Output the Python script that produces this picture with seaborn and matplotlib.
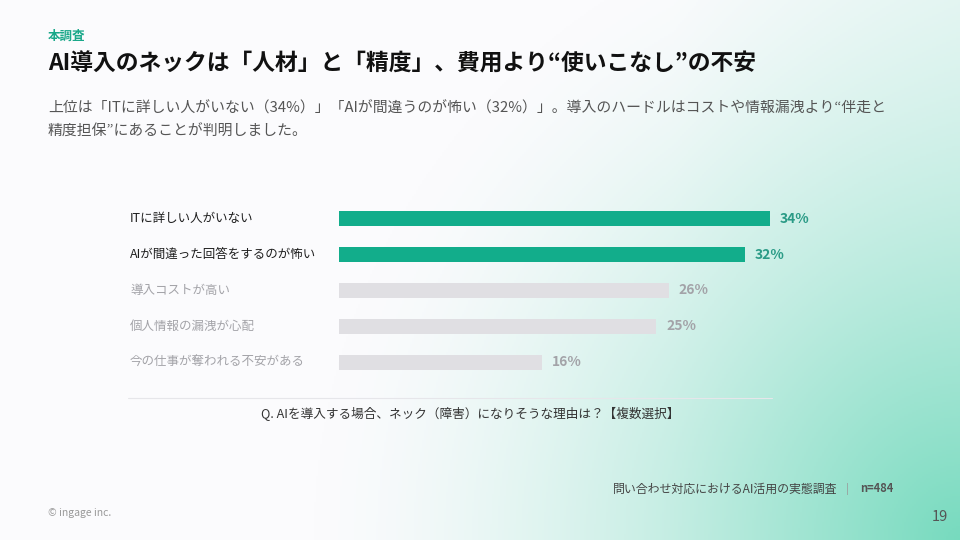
import numpy as np
import pandas as pd
import matplotlib.pyplot as plt
import seaborn as sns
from matplotlib.lines import Line2D

# --- データ ---
categories = ["ITに詳しい人がいない", "AIが間違った回答をするのが怖い", "導入コストが高い",
              "個人情報の漏洩が心配", "今の仕事が奪われる不安がある"]
values = [34, 32, 26, 25, 16]
highlight = [True, True, False, False, False]

TEAL = "#12ad8b"
TEAL_TXT = "#2a9b86"
GREY_BAR = "#e0dfe3"
GREY_TXT = "#a3a3a8"

sns.set_theme(style="white")
plt.rcParams['font.family'] = ['Noto Sans CJK JP', 'DejaVu Sans']

fig = plt.figure(figsize=(9.6, 5.4), dpi=100)
fig.patch.set_facecolor("#fbfbfd")

# --- 背景グラデーション ---
bg = fig.add_axes([0, 0, 1, 1], zorder=-10)
H, W = 270, 480
yy, xx = np.mgrid[0:H, 0:W]
xf = xx / W
yf = 1 - yy / H  # 0 = bottom
d = np.sqrt(((1 - xf) * 1.78) ** 2 + (yf * 1.0) ** 2)
w = np.clip(1 - d / 1.2, 0, 1) ** 1.5
w = w + 0.12 * np.clip(xf - 0.7, 0, 1) / 0.3 * (1 - w)
base = np.array([251, 251, 253]) / 255
tint = np.array([118, 218, 190]) / 255
img = base[None, None, :] * (1 - w[..., None]) + tint[None, None, :] * w[..., None]
bg.imshow(img, extent=[0, 1, 0, 1], aspect="auto", origin="upper")
bg.axis("off")

# --- 棒グラフ ---
px_per = (770 - 339) / 34
ax = fig.add_axes([339 / 960, 1 - 380 / 540, 40 * px_per / 960, 179 / 540])
ax.set_facecolor("none")
df = pd.DataFrame({"cat": categories, "val": values})
colors = [TEAL if h else GREY_BAR for h in highlight]
sns.barplot(data=df, y="cat", x="val", hue="cat", palette=colors, legend=False,
            orient="h", width=0.42, ax=ax, saturation=1, linewidth=0)
ax.set_xlim(0, 40)
ax.set_ylim(4.5, -0.5)
ax.set_xlabel("")
ax.set_ylabel("")
ax.set_xticks([])
ax.set_yticks([])
for s in ax.spines.values():
    s.set_visible(False)

ytr = ax.get_yaxis_transform()
for i, (c, v, h) in enumerate(zip(categories, values, highlight)):
    ax.text((130 - 339) / (40 * px_per), i, c, transform=ytr, ha="left", va="center",
            fontsize=9, color="#1e1e1e" if h else GREY_TXT)
    ax.text(v + 0.8, i, f"{v}%", ha="left", va="center", fontsize=10, fontweight="bold",
            color=TEAL_TXT if h else GREY_TXT)

# --- 区切り線と設問 ---
fig.add_artist(Line2D([128 / 960, 772 / 960], [1 - 398 / 540] * 2, color="#e6e6ea", lw=0.8))
fig.text(470 / 960, 1 - 414 / 540, "Q. AIを導入する場合、ネック（障害）になりそうな理由は？【複数選択】",
         ha="center", va="center", fontsize=9.1, color="#333333")

# --- タイトル類 ---
fig.text(48 / 960, 1 - 36 / 540, "本調査", fontsize=9, fontweight="bold", color="#1aa88a",
         va="center")
fig.text(48 / 960, 1 - 64 / 540, "AI導入のネックは「人材」と「精度」、費用より“使いこなし”の不安",
         fontsize=16.4, fontweight="bold", color="#111111", va="center")
fig.text(48 / 960, 1 - 108 / 540,
         "上位は「ITに詳しい人がいない（34%）」「AIが間違うのが怖い（32%）」。導入のハードルはコストや情報漏洩より“伴走と",
         fontsize=10.7, color="#555555", va="center")
fig.text(48 / 960, 1 - 132 / 540, "精度担保”にあることが判明しました。",
         fontsize=10.7, color="#555555", va="center")

# --- フッター ---
fig.text(613 / 960, 1 - 489 / 540, "問い合わせ対応におけるAI活用の実態調査", fontsize=8.6,
         color="#444444", va="center")
fig.text(846 / 960, 1 - 489 / 540, "|", fontsize=8, color="#999999", va="center")
fig.text(860 / 960, 1 - 489 / 540, "n=484", fontsize=8, color="#555555", va="center",
         fontweight="bold")
fig.text(948 / 960, 1 - 517 / 540, "19", fontsize=10.5, color="#555555", va="center", ha="right")
fig.text(48 / 960, 1 - 513 / 540, "© ingage inc.", fontsize=7.5, color="#999999", va="center")

fig.savefig("out.png", dpi=100, facecolor=fig.get_facecolor())
